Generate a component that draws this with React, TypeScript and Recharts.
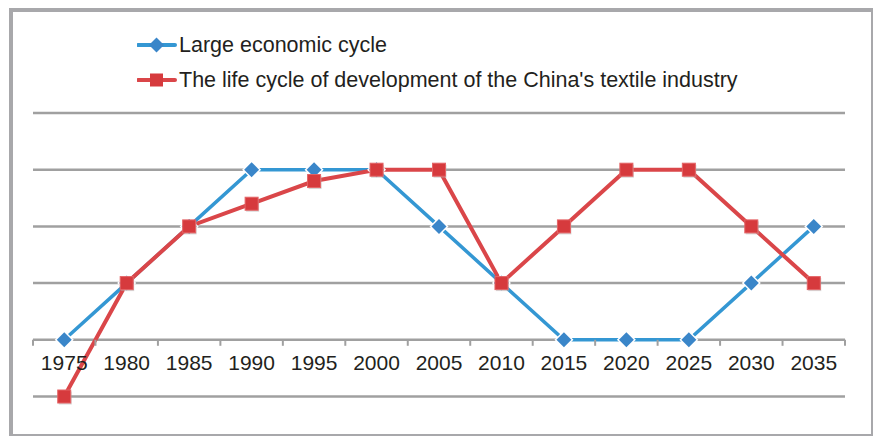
import React from "react";
import { LineChart, Line, XAxis, YAxis, CartesianGrid } from "recharts";

const years = ["1975", "1980", "1985", "1990", "1995", "2000", "2005", "2010", "2015", "2020", "2025", "2030", "2035"];
const economicCycle = [0, 1, 2, 3, 3, 3, 2, 1, 0, 0, 0, 1, 2];
const textileCycle = [-1, 1, 2, 2.4, 2.8, 3, 3, 1, 2, 3, 3, 2, 1];
const yTicks = [-1, 0, 1, 2, 3, 4];
const seriesNames = ["Large economic cycle", "The life cycle of development of the China's textile industry"];

const data = years.map((y, i) => ({ year: y, eco: economicCycle[i], tex: textileCycle[i] }));

const W = 877;
const H = 436;
const PLOT_LEFT = 33;
const PLOT_RIGHT = 845;
const PLOT_TOP = 113;
const PLOT_BOTTOM = 396.5;
const X_AXIS_H = 30;
const Y_MIN = -1;
const Y_MAX = 4;
const ZERO_Y = PLOT_BOTTOM - ((0 - Y_MIN) / (Y_MAX - Y_MIN)) * (PLOT_BOTTOM - PLOT_TOP);
const BAND = (PLOT_RIGHT - PLOT_LEFT) / years.length;

const BLUE_LINE = "#3497d3";
const BLUE_MARK = "#3a86c9";
const RED_LINE = "#da4649";
const RED_MARK = "#d63a3d";
const GRID = "#a0a0a0";
const FONT = "'Liberation Sans', Arial, sans-serif";

const Diamond = (props: any) => {
  const { cx, cy, index } = props;
  if (cx == null || cy == null) return <g key={index} />;
  const r = 7.5;
  return (
    <g key={index}>
      <path d={`M${cx},${cy - r - 2}L${cx + r + 2},${cy}L${cx},${cy + r + 2}L${cx - r - 2},${cy}Z`} fill="#ffffff" />
      <path d={`M${cx},${cy - r}L${cx + r},${cy}L${cx},${cy + r}L${cx - r},${cy}Z`} fill={BLUE_MARK} />
    </g>
  );
};

const Square = (props: any) => {
  const { cx, cy, index } = props;
  if (cx == null || cy == null) return <g key={index} />;
  const s = 13;
  return (
    <g key={index}>
      <rect x={cx - s / 2 + 1} y={cy - s / 2 + 1.5} width={s} height={s} fill="#b0b0b0" opacity={0.5} />
      <rect x={cx - s / 2} y={cy - s / 2} width={s} height={s} fill={RED_MARK} stroke="#e46466" strokeWidth={1} />
    </g>
  );
};

const AxisTick = (props: any) => {
  const { x, payload, index } = props;
  const left = x - BAND / 2;
  return (
    <g>
      <line x1={left} y1={ZERO_Y} x2={left} y2={ZERO_Y + 6} stroke={GRID} strokeWidth={2} />
      {index === years.length - 1 && (
        <line x1={x + BAND / 2} y1={ZERO_Y} x2={x + BAND / 2} y2={ZERO_Y + 6} stroke={GRID} strokeWidth={2} />
      )}
      <text x={x} y={ZERO_Y + 30} textAnchor="middle" fontSize={21} fontFamily={FONT} fill="#231f20">
        {payload.value}
      </text>
    </g>
  );
};

const LegendIcon = ({ kind }: { kind: "diamond" | "square" }) => (
  <svg width={40} height={20} style={{ display: "block" }}>
    <line x1={1} y1={10} x2={38} y2={10} stroke={kind === "diamond" ? BLUE_LINE : RED_LINE} strokeWidth={4} strokeLinecap="round" />
    {kind === "diamond" ? (
      <path d="M19.5,2.5L27,10L19.5,17.5L12,10Z" fill={BLUE_MARK} />
    ) : (
      <rect x={13} y={3.5} width={13} height={13} fill={RED_MARK} />
    )}
  </svg>
);

export default function App() {
  return (
    <div style={{ position: "absolute", left: 0, top: 0, width: W, height: H, background: "#ffffff" }}>
      <div
        style={{
          position: "absolute",
          left: 9,
          top: 8,
          width: 873 - 9,
          height: 436 - 8,
          boxSizing: "border-box",
          borderLeft: "4px solid #a8a8ab",
          borderTop: "4px solid #a8a8ab",
          borderRight: "2px solid #a8a8ab",
          borderBottom: "2px solid #a8a8ab",
        }}
      />
      <div style={{ position: "absolute", left: 0, top: 0 }}>
        <LineChart
          width={W}
          height={H}
          data={data}
          margin={{ top: PLOT_TOP, right: W - PLOT_RIGHT, left: PLOT_LEFT, bottom: H - PLOT_BOTTOM - X_AXIS_H }}
        >
          <CartesianGrid vertical={false} stroke={GRID} strokeWidth={2.5} />
          <XAxis
            dataKey="year"
            height={X_AXIS_H}
            axisLine={false}
            tickLine={false}
            tick={<AxisTick />}
            interval={0}
            padding={{ left: BAND / 2, right: BAND / 2 }}
          />
          <YAxis hide domain={[Y_MIN, Y_MAX]} ticks={yTicks} type="number" />
          <Line
            dataKey="eco"
            name={seriesNames[0]}
            stroke={BLUE_LINE}
            strokeWidth={3.5}
            dot={<Diamond />}
            activeDot={false}
            isAnimationActive={false}
          />
          <Line
            dataKey="tex"
            name={seriesNames[1]}
            stroke={RED_LINE}
            strokeWidth={4}
            dot={<Square />}
            activeDot={false}
            isAnimationActive={false}
          />
        </LineChart>
      </div>
      <div style={{ position: "absolute", left: 137, top: 32, fontFamily: FONT, fontSize: 21.5, color: "#231f20" }}>
        <div style={{ display: "flex", alignItems: "center", height: 26, marginBottom: 9 }}>
          <LegendIcon kind="diamond" />
          <span style={{ marginLeft: 2 }}>{seriesNames[0]}</span>
        </div>
        <div style={{ display: "flex", alignItems: "center", height: 26 }}>
          <LegendIcon kind="square" />
          <span style={{ marginLeft: 2 }}>{seriesNames[1]}</span>
        </div>
      </div>
    </div>
  );
}
